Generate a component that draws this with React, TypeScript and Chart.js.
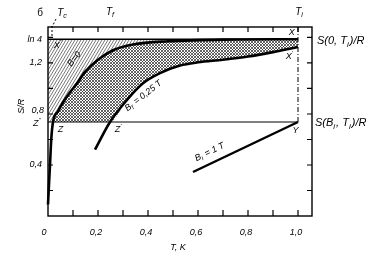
import React, { useEffect, useRef } from "react";
import { Chart, registerables } from "chart.js";

Chart.register(...registerables);

// ---- data (T in K, S/R) ----
const LN4 = Math.log(4);
const S_INIT = 0.737; // S(B_i, T_i)/R
const T_INIT = 1.0;
const T_C = 0.016;
const T_F = 0.248;

const b0T = [0.0, 0.004, 0.008, 0.013, 0.02, 0.04, 0.06, 0.088, 0.116, 0.148, 0.196, 0.26, 0.34, 0.48, 0.7, 1.0];
const b0S = [0.09, 0.25, 0.4, 0.6, 0.737, 0.82, 0.89, 0.97, 1.04, 1.13, 1.22, 1.3, 1.345, 1.37, 1.383, 1.386];

const bfT = [0.188, 0.248, 0.316, 0.38, 0.448, 0.528, 0.6, 0.7, 0.8, 0.9, 1.0];
const bfS = [0.52, 0.737, 0.91, 1.04, 1.12, 1.18, 1.205, 1.225, 1.25, 1.285, 1.325];

const biT = [0.58, 1.0];
const biS = [0.345, 0.737];

const xMinorTicks = [0.1, 0.2, 0.3, 0.4, 0.5, 0.6, 0.7, 0.8, 0.9, 1.0];
const xLabelVals = [0, 0.2, 0.4, 0.6, 0.8, 1.0];
const xLabelText = ["0", "0,2", "0,4", "0,6", "0,8", "1,0"];
const yMinorTicks = [0.2, 0.4, 0.6, 0.8, 1.0, 1.2, 1.4];
const yLabelVals = [0.4, 0.8, 1.2, LN4];
const yLabelText = ["0,4", "0,8", "1,2", "ln 4"];

const X_MAX = 1.056;
const Y_MAX = 1.482;

const pts = (xs: number[], ys: number[]) => xs.map((x, i) => ({ x, y: ys[i] }));

function makePattern(w: number, h: number, cross: boolean, color: string, lw: number) {
  const c = document.createElement("canvas");
  c.width = w;
  c.height = h;
  const g = c.getContext("2d")!;
  g.strokeStyle = color;
  g.lineWidth = lw;
  g.beginPath();
  g.moveTo(0, h);
  g.lineTo(w, 0);
  g.moveTo(-w, h);
  g.lineTo(0, 0);
  g.moveTo(w, h);
  g.lineTo(2 * w, 0);
  if (cross) {
    g.moveTo(0, 0);
    g.lineTo(w, h);
    g.moveTo(-w, 0);
    g.lineTo(0, h);
    g.moveTo(w, 0);
    g.lineTo(2 * w, h);
  }
  g.stroke();
  return g.createPattern(c, "repeat")!;
}

type Part = [string, number]; // 0 normal, 1 sub, 2 sup
const FONT = '"Liberation Sans", "DejaVu Sans", sans-serif';

function richWidth(ctx: CanvasRenderingContext2D, parts: Part[], size: number) {
  let w = 0;
  for (const [t, k] of parts) {
    ctx.font = `italic ${k ? Math.round(size * 0.72) : size}px ${FONT}`;
    w += ctx.measureText(t).width;
  }
  return w;
}

function drawRich(ctx: CanvasRenderingContext2D, parts: Part[], x: number, y: number, size: number, align: "left" | "center" = "left") {
  let cx = align === "center" ? x - richWidth(ctx, parts, size) / 2 : x;
  ctx.textAlign = "left";
  ctx.textBaseline = "middle";
  for (const [t, k] of parts) {
    ctx.font = `italic ${k ? Math.round(size * 0.72) : size}px ${FONT}`;
    const dy = k === 1 ? size * 0.3 : k === 2 ? -size * 0.35 : 0;
    ctx.fillText(t, cx, y + dy);
    cx += ctx.measureText(t).width + (k === 1 ? 1 : 0);
  }
}

const decorPlugin = {
  id: "decor",
  afterDraw(chart: any) {
    const ctx: CanvasRenderingContext2D = chart.ctx;
    const xs = chart.scales.x;
    const ys = chart.scales.y;
    const { left, right, top, bottom } = chart.chartArea;
    const px = (v: number) => xs.getPixelForValue(v);
    const py = (v: number) => ys.getPixelForValue(v);
    ctx.save();
    ctx.strokeStyle = "#000";
    ctx.fillStyle = "#000";
    // frame
    ctx.lineWidth = 1.4;
    ctx.strokeRect(left, top, right - left, bottom - top);
    // ticks
    ctx.lineWidth = 1.2;
    ctx.beginPath();
    for (const v of xMinorTicks) {
      ctx.moveTo(px(v), bottom);
      ctx.lineTo(px(v), bottom - 6);
      ctx.moveTo(px(v), top);
      ctx.lineTo(px(v), top + 5);
    }
    for (const v of yMinorTicks) {
      ctx.moveTo(left, py(v));
      ctx.lineTo(left + 5, py(v));
      ctx.moveTo(right, py(v));
      ctx.lineTo(right - 5, py(v));
    }
    ctx.stroke();
    // T_c dashed marker
    ctx.lineWidth = 1;
    ctx.setLineDash([2, 2]);
    ctx.beginPath();
    ctx.moveTo(px(T_C), top - 1);
    ctx.lineTo(px(T_C), top + 9);
    ctx.moveTo(px(T_C) + 4, top - 8);
    ctx.lineTo(px(T_C), top);
    ctx.stroke();
    ctx.setLineDash([]);

    // x tick labels
    ctx.font = `italic 9px ${FONT}`;
    ctx.textAlign = "center";
    ctx.textBaseline = "middle";
    xLabelVals.forEach((v, i) => ctx.fillText(xLabelText[i], px(v) - (v === 0 ? 4 : 2), bottom + 16));
    // y tick labels
    ctx.textAlign = "right";
    yLabelVals.forEach((v, i) => ctx.fillText(yLabelText[i], left - 6 + (v === 0.8 ? 2 : 0), py(v) + (v === 0.8 ? -3 : 0)));
    // axis titles
    drawRich(ctx, [["T, K", 0]], px(0.52), bottom + 31, 9, "center");
    ctx.save();
    ctx.translate(left - 27, py(0.86));
    ctx.rotate(-Math.PI / 2);
    drawRich(ctx, [["S/R", 0]], 0, 0, 9, "center");
    ctx.restore();

    // top labels
    ctx.font = `10px ${FONT}`;
    ctx.textAlign = "center";
    ctx.fillText("б", left - 8, top - 14);
    drawRich(ctx, [["T", 0], ["c", 1]], px(T_C) + 10, top - 14, 10, "center");
    drawRich(ctx, [["T", 0], ["f", 1]], px(T_F), top - 15, 10, "center");
    drawRich(ctx, [["T", 0], ["i", 1]], px(T_INIT) + 1, top - 15, 10, "center");

    // right labels
    drawRich(ctx, [["S(0, T", 0], ["i", 1], [")/R", 0]], right + 5, py(LN4) + 2, 11);
    drawRich(ctx, [["S(B", 0], ["i", 1], [", T", 0], ["i", 1], [")/R", 0]], right + 3, py(S_INIT) + 1, 11);

    // point labels
    drawRich(ctx, [["X", 0], ["''", 2]], px(0.04), py(1.34), 9, "center");
    drawRich(ctx, [["Z", 0]], px(0.05), py(0.675), 9, "center");
    drawRich(ctx, [["Z", 0], ["'", 2]], px(0.28), py(0.675), 9, "center");
    drawRich(ctx, [["Z", 0], ["''", 2]], left - 11, py(S_INIT) + 1, 9, "center");
    drawRich(ctx, [["X", 0]], px(0.975), py(1.44), 9, "center");
    drawRich(ctx, [["X", 0], ["'", 2]], px(0.965), py(1.25), 9, "center");
    drawRich(ctx, [["Y", 0]], px(0.99), py(0.672), 9, "center");

    // rotated curve labels
    const rot = (parts: Part[], t: number, s: number, ang: number) => {
      ctx.save();
      ctx.translate(px(t), py(s));
      ctx.rotate((ang * Math.PI) / 180);
      drawRich(ctx, parts, 0, 0, 9, "center");
      ctx.restore();
    };
    rot([["B=0", 0]], 0.105, 1.23, -52);
    rot([["B", 0], ["f", 1], [" = 0,25 T", 0]], 0.38, 0.94, -38);
    rot([["B", 0], ["i", 1], [" = 1 T", 0]], 0.645, 0.5, -26);
    ctx.restore();
  },
};

export default function App() {
  const ref = useRef<HTMLCanvasElement>(null);
  useEffect(() => {
    const single = makePattern(3, 5, false, "#555", 0.8);
    const cross = makePattern(3, 3, true, "#222", 0.7);

    const b0Pts = pts(b0T, b0S);
    const bfPts = pts(bfT, bfS);
    // region boundaries (derived from the curves above)
    const singleTop = [{ x: 0, y: LN4 }, { x: 0.7, y: LN4 }];
    const singleBottom = [{ x: 0, y: S_INIT }, ...b0Pts.filter((p) => p.y >= S_INIT && p.x <= 0.7)];
    const crossTop = b0Pts.filter((p) => p.y >= S_INIT);
    const crossBottom = [{ x: b0Pts.find((p) => p.y >= S_INIT)!.x, y: S_INIT }, ...bfPts.filter((p) => p.y >= S_INIT)];

    const line = (data: any[], width: number, extra: any = {}) => ({
      data,
      borderColor: "#000",
      borderWidth: width,
      pointRadius: 0,
      fill: false,
      tension: 0.35,
      clip: false,
      order: 0,
      ...extra,
    });

    const chart = new Chart(ref.current!, {
      type: "line",
      data: {
        datasets: [
          line(b0Pts, 2.6, { cubicInterpolationMode: "monotone" }),
          line(bfPts, 2.6, { cubicInterpolationMode: "monotone" }),
          line(pts(biT, biS), 2.4, { tension: 0 }),
          line([{ x: 0, y: LN4 }, { x: T_INIT, y: LN4 }], 1.6, { tension: 0 }),
          line([{ x: 0, y: S_INIT }, { x: T_INIT, y: S_INIT }], 1.2, { tension: 0 }),
          line([{ x: T_INIT, y: S_INIT }, { x: T_INIT, y: Y_MAX }], 1, { tension: 0, borderDash: [5, 2, 1, 2] }),
          // hatched regions
          line(singleTop, 0, { tension: 0, fill: 7, backgroundColor: single, order: 5 }),
          line(singleBottom, 0, { tension: 0.3, cubicInterpolationMode: "monotone", order: 6 }),
          line(crossTop, 0, { cubicInterpolationMode: "monotone", fill: 9, backgroundColor: cross, order: 5 }),
          line(crossBottom, 0, { cubicInterpolationMode: "monotone", order: 6 }),
        ],
      },
      options: {
        responsive: false,
        animation: false,
        layout: { padding: { left: 48, right: 68, top: 27, bottom: 40 } },
        plugins: { legend: { display: false }, tooltip: { enabled: false } },
        scales: {
          x: { type: "linear", min: 0, max: X_MAX, display: false },
          y: { type: "linear", min: 0, max: Y_MAX, display: false },
        },
      },
      plugins: [decorPlugin],
    });
    return () => chart.destroy();
  }, []);

  return (
    <div style={{ position: "fixed", left: 0, top: 0, width: 380, height: 256, background: "#fff" }}>
      <canvas ref={ref} width={380} height={256} />
    </div>
  );
}
